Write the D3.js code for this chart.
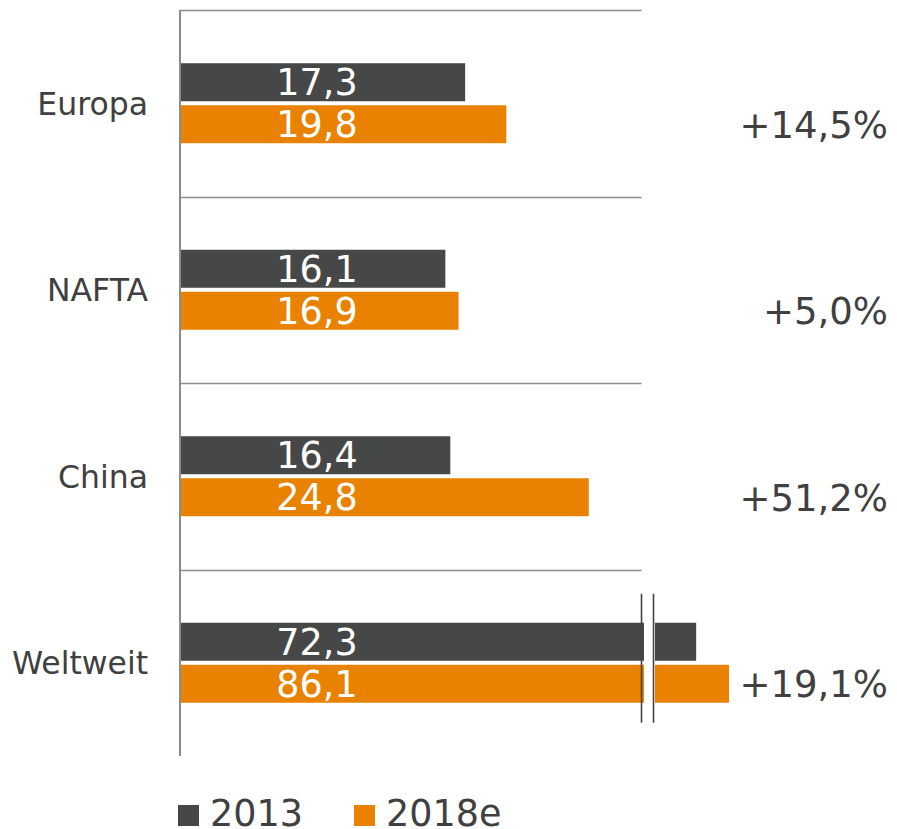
<!DOCTYPE html>
<html>
<head>
<meta charset="utf-8">
<script src="https://cdn.jsdelivr.net/npm/d3@7"></script>
<style>
  body { margin: 0; background: #fff; }
  svg text { font-family: Verdana, "DejaVu Sans", sans-serif; }
</style>
</head>
<body>
<script>
// Values (in Mio. units, German decimal comma)
const categories = ["Europa", "NAFTA", "China", "Weltweit"];
const series = ["2013", "2018e"];
const values2013 = [17.3, 16.1, 16.4, 72.3];
const values2018 = [19.8, 16.9, 24.8, 86.1];
const growthLabels = ["+14,5%", "+5,0%", "+51,2%", "+19,1%"];

const seriesColors = ["#464847", "#E88200"];
const TEXT_COLOR = "#404040";
const GRID_COLOR = "#8c8c8c";

const fmt = v => d3.format(".1f")(v).replace(".", ",");

function drawChart() {
  const width = 897;
  const height = 829;

  const svg = d3
    .select("body")
    .append("svg")
    .attr("width", width)
    .attr("height", height);

  // main axis and the short segment after the axis break
  const x = d3.scaleLinear().domain([0, 28]).range([180, 641.5]);
  const breakStart = 644;
  const xBreak = d3.scaleLinear().domain([55, 86.1]).range([655, 729]);

  const y = d3.scaleBand().domain(categories).range([10, 756]);

  const barH = 38;
  const barGap = 4;

  const rows = categories.map((c, i) => ({
    cat: c,
    vals: [values2013[i], values2018[i]],
    growth: growthLabels[i]
  }));

  const barTop = (d, s) =>
    y(d.cat) + y.bandwidth() / 2 - barH - barGap / 2 + s * (barH + barGap);

  // horizontal separators
  svg
    .selectAll("line.sep")
    .data(categories)
    .enter()
    .append("line")
    .attr("class", "sep")
    .attr("x1", x(0))
    .attr("x2", x(28))
    .attr("y1", d => Math.round(y(d)) + 0.5)
    .attr("y2", d => Math.round(y(d)) + 0.5)
    .attr("stroke", GRID_COLOR)
    .attr("stroke-width", 1.6);

  const rowG = svg
    .selectAll("g.row")
    .data(rows)
    .enter()
    .append("g")
    .attr("class", "row");

  series.forEach((s, si) => {
    // first segment (clipped at the break)
    rowG
      .append("rect")
      .attr("x", x(0))
      .attr("y", d => barTop(d, si))
      .attr("height", barH)
      .attr("width", d =>
        d.vals[si] > 28 ? breakStart - x(0) : x(d.vals[si]) - x(0)
      )
      .attr("fill", seriesColors[si]);

    // continuation after the break
    rowG
      .filter(d => d.vals[si] > 28)
      .append("rect")
      .attr("x", xBreak(55))
      .attr("y", d => barTop(d, si))
      .attr("height", barH)
      .attr("width", d => xBreak(d.vals[si]) - xBreak(55))
      .attr("fill", seriesColors[si]);

    // value labels inside the bars
    rowG
      .append("text")
      .attr("x", 317)
      .attr("y", d => barTop(d, si) + barH / 2)
      .attr("dy", "0.36em")
      .attr("text-anchor", "middle")
      .attr("fill", "#fff")
      .style("font-size", "36.5px")
      .text(d => fmt(d.vals[si]));
  });

  // axis break marks
  const brokenRows = rows.filter(d => d3.max(d.vals) > 28);
  [641.5, 653.5].forEach(bx => {
    svg
      .selectAll(null)
      .data(brokenRows)
      .enter()
      .append("line")
      .attr("x1", bx)
      .attr("x2", bx)
      .attr("y1", d => barTop(d, 0) - 29)
      .attr("y2", d => barTop(d, 1) + barH + 20)
      .attr("stroke", "#444")
      .attr("stroke-width", 1.6);
  });

  // category labels
  rowG
    .append("text")
    .attr("x", 148)
    .attr("y", d => y(d.cat) + y.bandwidth() / 2)
    .attr("dy", "0.36em")
    .attr("text-anchor", "end")
    .attr("fill", TEXT_COLOR)
    .style("font-size", "31.5px")
    .text(d => d.cat);

  // growth labels
  rowG
    .append("text")
    .attr("x", 888)
    .attr("y", d => barTop(d, 1) + barH / 2)
    .attr("dy", "0.36em")
    .attr("text-anchor", "end")
    .attr("fill", TEXT_COLOR)
    .style("font-size", "37px")
    .text(d => d.growth);

  // vertical axis line
  svg
    .append("line")
    .attr("x1", x(0))
    .attr("x2", x(0))
    .attr("y1", y.range()[0])
    .attr("y2", y.range()[1])
    .attr("stroke", GRID_COLOR)
    .attr("stroke-width", 2);

  // legend
  const legendX = [178, 354];
  const legend = svg
    .selectAll("g.legend")
    .data(series)
    .enter()
    .append("g")
    .attr("class", "legend")
    .attr("transform", (d, i) => `translate(${legendX[i]}, 805)`);

  legend
    .append("rect")
    .attr("width", 21)
    .attr("height", 21)
    .attr("fill", (d, i) => seriesColors[i]);

  legend
    .append("text")
    .attr("x", 32)
    .attr("y", 21)
    .attr("fill", TEXT_COLOR)
    .style("font-size", "36.5px")
    .text(d => d);
}

drawChart();
</script>
</body>
</html>
